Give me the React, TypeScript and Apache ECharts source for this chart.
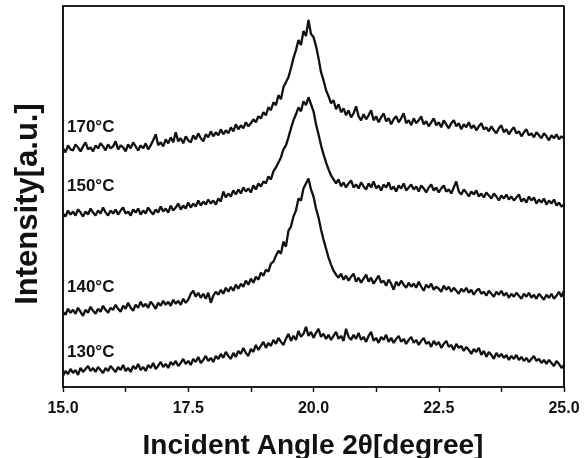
import React, { useEffect, useRef } from "react";
import * as echarts from "echarts";

// Scan grid of the diffractometer (2θ in degrees)
const scanStart = 15.0;
const scanStep = 0.05;

const seriesNames = ["170°C", "150°C", "140°C", "130°C"];

// Intensities (a.u., with the stacking offsets), one row per 0.5°
const i170 = [
  238, 234, 241, 237, 236, 242, 239, 235, 240, 244,
  237, 239, 235, 241, 238, 243, 240, 236, 242, 238,
  240, 245, 237, 241, 239, 235, 242, 238, 244, 240,
  236, 241, 238, 243, 237, 241, 246, 252, 241, 244,
  240, 247, 243, 249, 244, 254, 245, 248, 243, 250,
  246, 244, 251, 247, 253, 248, 245, 252, 249, 255,
  250, 254, 251, 257, 252, 256, 253, 259, 255, 262,
  257, 261, 258, 264, 260, 263, 267, 264, 270, 268,
  274, 271, 279, 276, 284, 281, 291, 287, 299, 304,
  309, 318, 328, 336, 346, 341, 355, 350, 366, 352,
  349, 340, 328, 314, 306, 296, 290, 283, 286, 277,
  282, 274, 278, 271, 276, 269, 273, 280, 270, 266,
  272, 267, 271, 276, 266, 270, 264, 269, 273, 265,
  268, 262, 267, 270, 264, 268, 273, 263, 266, 261,
  268, 263, 266, 270, 262, 265, 260, 264, 268, 261,
  264, 259, 266, 262, 258, 263, 266, 260, 263, 257,
  262, 259, 264, 258, 261, 256, 260, 263, 257, 259,
  255, 260, 256, 253, 258, 261, 254, 257, 252, 256,
  259, 253, 255, 250, 254, 257, 251, 253, 249, 254,
  251, 248, 253, 250, 246, 251, 248, 252, 247, 250,
  248,
];
const i150 = [
  173, 170, 176, 172, 175, 171, 177, 174, 170, 175,
  172, 178, 174, 171, 176, 173, 179, 174, 171, 176,
  173, 177, 172, 176, 179, 173, 175, 171, 177, 174,
  178, 172, 176, 173, 179, 175, 172, 177, 174, 180,
  175, 178, 174, 181, 176, 179, 183, 177, 181, 178,
  184, 179, 183, 180, 186, 181, 185, 182, 187, 183,
  186, 182, 188, 185, 195, 189, 193, 190, 196, 192,
  197, 193, 199, 195, 198, 194, 201, 197, 203, 200,
  205, 203, 210, 207, 215, 219, 224, 229, 237, 241,
  249, 258, 266, 272, 279, 275, 285, 281, 289, 282,
  275, 262, 252, 241, 232, 224, 217, 211, 207, 203,
  207, 200, 204, 199, 203, 206, 199, 202, 198, 204,
  200, 197, 203, 199, 205, 198, 201, 196, 202, 199,
  204, 197, 200, 195, 201, 198, 203, 196, 199, 202,
  197, 200, 195, 201, 198, 194, 199, 202, 196, 199,
  194, 198, 201, 195, 197, 193, 199, 205, 195, 192,
  197, 194, 190, 195, 192, 196, 190, 193, 189, 194,
  191, 188, 193, 190, 186, 191, 188, 192, 187, 190,
  186, 189, 192, 185, 188, 184, 190, 186, 189, 183,
  187, 184, 188, 182, 186, 183, 187, 181, 184, 180,
  182,
];
const i140 = [
  75, 72, 78, 74, 77, 73, 79, 75, 71, 77,
  74, 80, 76, 73, 78, 75, 81, 77, 74, 79,
  77, 82, 78, 75, 81, 78, 84, 79, 76, 82,
  79, 85, 80, 83, 79, 85, 82, 78, 84, 81,
  86, 82, 85, 81, 87, 83, 86, 82, 88, 84,
  87, 93, 96, 90, 94, 89, 93, 88, 94, 84,
  91, 95, 92, 97, 93, 99, 95, 100, 96, 102,
  98, 103, 100, 106, 102, 108, 104, 110, 107, 114,
  111, 117, 115, 123, 125, 131, 136, 133, 145, 140,
  156, 160, 170, 176, 188, 186, 198, 203, 208, 197,
  190, 178, 169, 157, 147, 138, 129, 122, 116, 112,
  109, 113, 107, 111, 106, 110, 113, 105, 109, 104,
  108, 112, 105, 109, 103, 107, 111, 104, 106, 101,
  107, 103, 97, 105, 101, 106, 102, 99, 104, 100,
  103, 99, 105, 100, 96, 102, 99, 103, 97, 100,
  98, 95, 101, 97, 100, 95, 99, 96, 93, 98,
  95, 99, 94, 97, 92, 96, 98, 93, 95, 91,
  96, 93, 90, 95, 92, 96, 91, 94, 89, 93,
  90, 94, 91, 88, 93, 90, 94, 89, 92, 88,
  93, 90, 87, 92, 89, 93, 88, 91, 95, 90,
  96,
];
const i130 = [
  11, 16, 13, 18, 14, 17, 12, 19, 15, 18,
  21, 16, 19, 15, 20, 17, 14, 19, 16, 21,
  18, 15, 20, 17, 22, 16, 19, 15, 21, 18,
  23, 17, 20, 16, 22, 19, 24, 18, 21, 25,
  20, 23, 19, 25, 22, 26, 21, 24, 28, 23,
  26, 22, 28, 25, 30, 24, 27, 31, 26, 29,
  25, 31, 28, 33, 29, 35, 31, 28, 34, 30,
  36, 33, 39, 34, 31, 38, 35, 42, 37, 41,
  45, 39, 44, 41, 47, 43, 49, 45, 42, 48,
  53, 46, 51, 47, 56, 50, 53, 60, 51, 55,
  49, 54, 58, 50, 53, 48, 52, 47, 51, 55,
  48, 51, 46, 58, 50, 47, 52, 48, 54, 47,
  50, 45, 51, 55, 46, 49, 44, 50, 47, 52,
  45, 49, 44, 48, 51, 45, 48, 43, 47, 50,
  44, 47, 42, 46, 49, 43, 45, 40, 46, 42,
  45, 39, 43, 46, 40, 42, 37, 43, 39, 41,
  36, 40, 37, 33, 38, 35, 39, 32, 36, 30,
  35, 32, 28, 34, 30, 33, 29, 32, 27, 31,
  28, 32, 27, 30, 26, 29, 25, 28, 31, 26,
  28, 24, 27, 23, 27, 24, 21, 26, 23, 19,
  22,
];

const xTickValues = [15.0, 17.5, 20.0, 22.5, 25.0];
const yRange = [0, 380];

const FONT = "'Liberation Sans', Arial, Helvetica, sans-serif";
const INK = "#111111";

function toPairs(vals: number[]): [number, number][] {
  return vals.map((v, i) => [Number((scanStart + i * scanStep).toFixed(2)), v]);
}

export default function App() {
  const ref = useRef<HTMLDivElement>(null);
  useEffect(() => {
    if (!ref.current) return;
    const chart = echarts.init(ref.current, undefined, { renderer: "svg" });
    const all = [i170, i150, i140, i130];
    const labelY = [127, 186, 287, 352];
    const xMin = xTickValues[0];
    const xMax = xTickValues[xTickValues.length - 1];
    chart.setOption({
      animation: false,
      grid: {
        left: 63,
        right: 23,
        top: 6,
        bottom: 71,
        show: true,
        borderColor: INK,
        borderWidth: 1.6,
      },
      xAxis: {
        type: "value",
        min: xMin,
        max: xMax,
        interval: 2.5,
        axisLine: { show: true, lineStyle: { color: INK, width: 1.6 } },
        axisTick: { show: true, length: 5, lineStyle: { color: INK, width: 1.4 } },
        minorTick: { show: true, splitNumber: 2, length: 5, lineStyle: { color: INK, width: 1.4 } },
        splitLine: { show: false },
        axisLabel: {
          color: INK,
          fontFamily: FONT,
          fontWeight: "bold",
          fontSize: 16,
          margin: 12,
          formatter: (v: number) => v.toFixed(1),
        },
      },
      yAxis: {
        type: "value",
        min: yRange[0],
        max: yRange[1],
        axisLine: { show: true, lineStyle: { color: INK, width: 1.6 } },
        axisTick: { show: false },
        axisLabel: { show: false },
        splitLine: { show: false },
      },
      series: all.map((vals, k) => ({
        name: seriesNames[k],
        type: "line",
        data: toPairs(vals),
        showSymbol: false,
        symbol: "none",
        lineStyle: { color: INK, width: 2.3 },
        markLine:
          k === 0
            ? {
                symbol: "none",
                silent: true,
                lineStyle: { color: INK, width: 1.6, type: "solid" },
                label: { show: false },
                data: [
                  [{ coord: [xMin, yRange[1]] }, { coord: [xMax, yRange[1]] }],
                  [{ coord: [xMax, yRange[1]] }, { coord: [xMax, yRange[0]] }],
                ],
              }
            : undefined,
      })),
      graphic: [
        ...seriesNames.map((n, k) => ({
          type: "text",
          left: 67,
          top: labelY[k] - 9,
          style: {
            text: n,
            fill: INK,
            font: `bold 17px ${FONT}`,
          },
        })),
        {
          type: "text",
          x: 313,
          y: 444,
          style: {
            text: "Incident Angle 2θ[degree]",
            fill: INK,
            font: `bold 28px ${FONT}`,
            align: "center",
            verticalAlign: "middle",
          },
        },
        {
          type: "text",
          x: 26,
          y: 204,
          rotation: Math.PI / 2,
          style: {
            text: "Intensity[a.u.]",
            fill: INK,
            font: `bold 31px ${FONT}`,
            align: "center",
            verticalAlign: "middle",
          },
        },
      ],
    });
    return () => chart.dispose();
  }, []);
  return (
    <div
      ref={ref}
      style={{ position: "fixed", left: 0, top: 0, width: 587, height: 458 }}
    />
  );
}
